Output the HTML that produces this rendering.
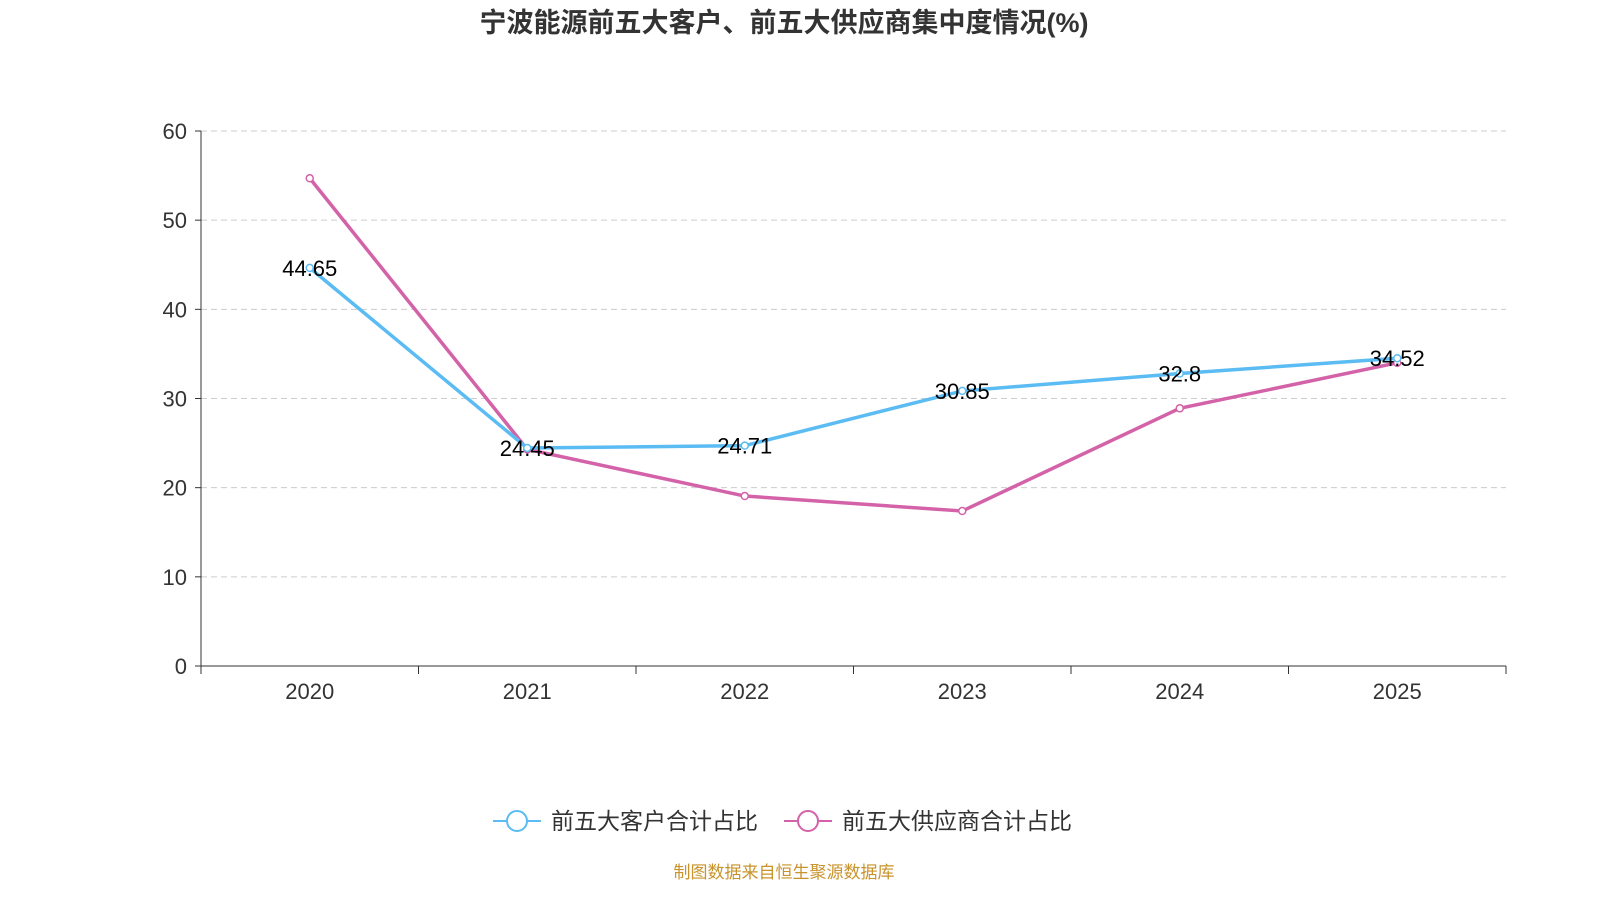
<!DOCTYPE html>
<html><head><meta charset="utf-8"><style>
html,body{margin:0;padding:0;background:#fff;overflow:hidden;width:1600px;height:900px;font-family:"Liberation Sans","Noto Sans CJK SC",sans-serif;}
svg{display:block;}
</style></head><body>
<svg width="1600" height="900" xmlns="http://www.w3.org/2000/svg" style="font-family:'Liberation Sans','Noto Sans CJK SC',sans-serif">
<text x="784" y="32" text-anchor="middle" font-size="27" font-weight="bold" fill="#333">宁波能源前五大客户、前五大供应商集中度情况(%)</text>
<g id="grid"></g>
<g id="axes"></g>
<g id="series"></g>
<g>
<g>
<line x1="493" y1="821" x2="541" y2="821" stroke="#5bbcf3" stroke-width="2"/>
<circle cx="517" cy="821" r="10" fill="#fff" stroke="#5bbcf3" stroke-width="2"/>
<text x="551" y="829" font-size="23" fill="#333">前五大客户合计占比</text></g>
<g>
<line x1="784" y1="821" x2="832" y2="821" stroke="#d462a8" stroke-width="2"/>
<circle cx="808" cy="821" r="10" fill="#fff" stroke="#d462a8" stroke-width="2"/>
<text x="842" y="829" font-size="23" fill="#333">前五大供应商合计占比</text></g>
</g>
<text x="784" y="878" text-anchor="middle" font-size="17" fill="#c8932b">制图数据来自恒生聚源数据库</text>
</svg>
<script>
const categories=["2020","2021","2022","2023","2024","2025"];
const customers=[44.65,24.45,24.71,30.85,32.8,34.52];
const suppliers=[54.7,24.3,19.06,17.38,28.9,34.0];
const yTicks=[0,10,20,30,40,50,60];
const NS="http://www.w3.org/2000/svg";
const x0=201,x1=1506,y0=666,y1=131;
const bw=(x1-x0)/categories.length;
const xs=i=>x0+bw*(i+0.5);
const ys=v=>y0-(v/60)*(y0-y1);
function mk(t,a,p){const e=document.createElementNS(NS,t);for(const k in a)e.setAttribute(k,a[k]);p.appendChild(e);return e;}
const grid=document.getElementById('grid'),axes=document.getElementById('axes'),ser=document.getElementById('series');
yTicks.forEach(v=>{
  if(v>0){const g=mk('line',{x1:x0,x2:x1,y1:ys(v),y2:ys(v),stroke:'#ccc','stroke-dasharray':'6,4'},grid);
  
  }
  mk('line',{x1:x0-6,x2:x0,y1:ys(v),y2:ys(v),stroke:'#333'},axes);
  const t=mk('text',{x:x0-14,y:ys(v)+8,'text-anchor':'end','font-size':22,fill:'#333'},axes);
  t.textContent=v;
  
  
});
mk('line',{x1:x0,x2:x0,y1:y1,y2:y0,stroke:'#333'},axes);
mk('line',{x1:x0,x2:x1,y1:y0,y2:y0,stroke:'#333'},axes);
for(let i=0;i<=categories.length;i++)mk('line',{x1:x0+bw*i,x2:x0+bw*i,y1:y0,y2:y0+8,stroke:'#333'},axes);
categories.forEach((c,i)=>{
  const t=mk('text',{x:xs(i),y:y0+33,'text-anchor':'middle','font-size':22,fill:'#333'},axes);
  t.textContent=c;
  
  
});
function draw(data,color,name,labels){
  const p=mk('polyline',{points:data.map((v,i)=>xs(i)+','+ys(v)).join(' '),fill:'none',stroke:color,'stroke-width':3.5},ser);
  
  
  data.forEach((v,i)=>{
    const c=mk('circle',{cx:xs(i),cy:ys(v),r:3.5,fill:'#fff',stroke:color,'stroke-width':1.5},ser);
    
    
    if(labels){const t=mk('text',{x:xs(i),y:ys(v)+8,'text-anchor':'middle','font-size':22,fill:'#000'},ser);
      t.textContent=v;
      
      }
  });
}
draw(suppliers,'#d462a8','suppliers',false);
draw(customers,'#5bbcf3','customers',true);
</script>
</body></html>
